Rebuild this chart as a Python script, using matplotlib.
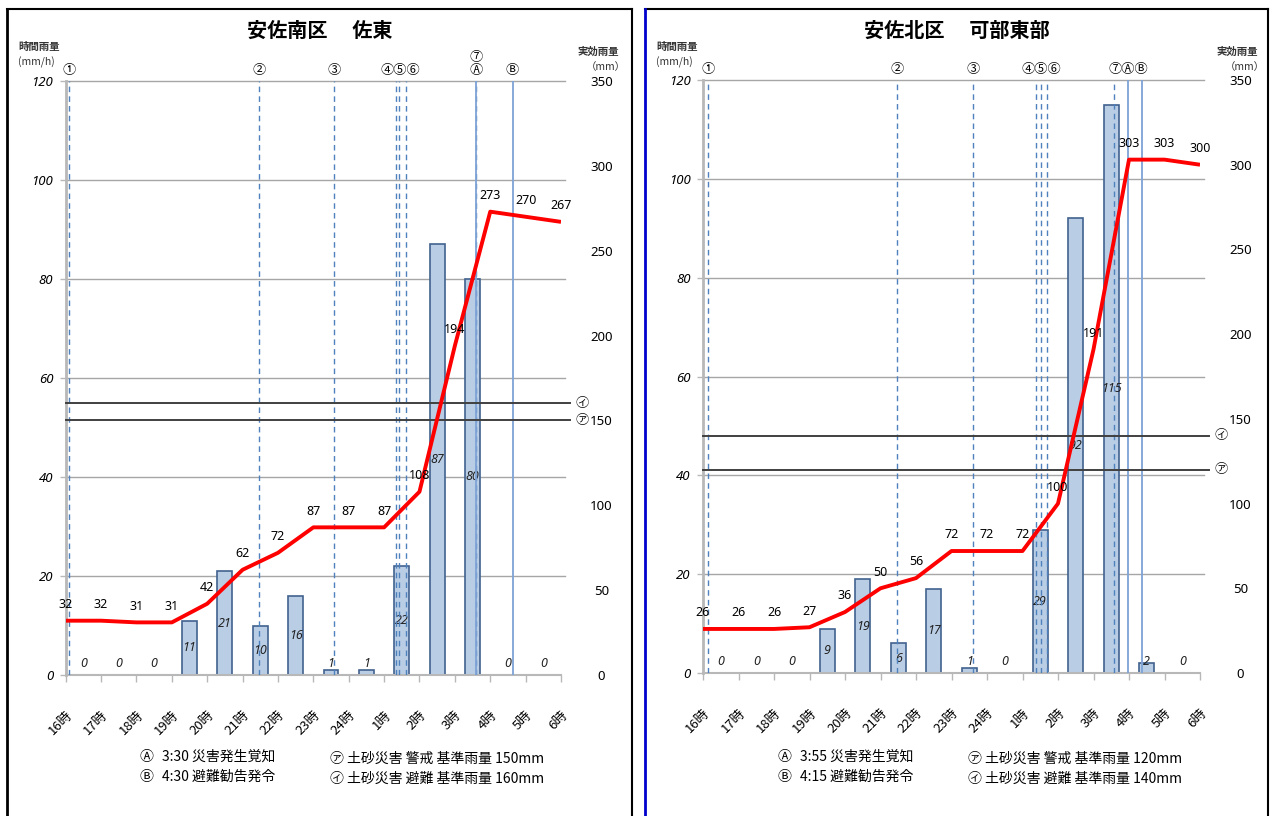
import matplotlib
matplotlib.use('Agg')
import matplotlib.pyplot as plt
from matplotlib.lines import Line2D

plt.rcParams['font.family'] = ['Noto Sans CJK JP', 'DejaVu Sans']
NUM_FONT = ['Noto Sans', 'DejaVu Sans']

W, H = 1271, 816

hours = ['16時', '17時', '18時', '19時', '20時', '21時', '22時', '23時', '24時',
         '1時', '2時', '3時', '4時', '5時', '6時']

# 安佐南区 佐東
sato_title = '安佐南区　 佐東'
sato_hourly = [0, 0, 0, 11, 21, 10, 16, 1, 1, 22, 87, 80, 0, 0]
sato_effective = [32, 32, 31, 31, 42, 62, 72, 87, 87, 87, 108, 194, 273, 270, 267]
sato_events = {'①': 0.10, '②': 5.46, '③': 7.58, '④': 9.33, '⑤': 9.41, '⑥': 9.61,
               '⑦': 11.6, 'Ⓐ': 11.6, 'Ⓑ': 12.63}
sato_groups = [['①'], ['②'], ['③'], ['④', '⑤', '⑥'], ['⑦', 'Ⓐ'], ['Ⓑ']]
sato_warn = 150   # ア
sato_evac = 160   # イ
sato_notes = ['3:30 災害発生覚知', '4:30 避難勧告発令']

# 安佐北区 可部東部
kabe_title = '安佐北区　 可部東部'
kabe_hourly = [0, 0, 0, 9, 19, 6, 17, 1, 0, 29, 92, 115, 2, 0]
kabe_effective = [26, 26, 26, 27, 36, 50, 56, 72, 72, 72, 100, 191, 303, 303, 300]
kabe_events = {'①': 0.14, '②': 5.46, '③': 7.6, '④': 9.39, '⑤': 9.53, '⑥': 9.70,
               '⑦': 11.57, 'Ⓐ': 11.98, 'Ⓑ': 12.38}
kabe_groups = [['①'], ['②'], ['③'], ['④', '⑤', '⑥'], ['⑦', 'Ⓐ', 'Ⓑ']]
kabe_warn = 120
kabe_evac = 140
kabe_notes = ['3:55 災害発生覚知', '4:15 避難勧告発令']

fig = plt.figure(figsize=(W / 100, H / 100), dpi=100)


def px_rect(x0, y0, x1, y1):
    return [x0 / W, 1 - y1 / H, (x1 - x0) / W, (y1 - y0) / H]


def fx(x):
    return x / W


def fy(y):
    return 1 - y / H


def draw_panel(box, ax_box, title, hourly, effective, events, groups, warn, evac, notes, edge_left):
    bx0, by0, bx1 = box
    # frame
    fig.add_artist(Line2D([fx(bx0), fx(bx1)], [fy(by0), fy(by0)], color='black', lw=1.5))
    fig.add_artist(Line2D([fx(bx1), fx(bx1)], [fy(by0), 0], color='black', lw=1.5))
    fig.add_artist(Line2D([fx(bx0), fx(bx0)], [fy(by0), 0], color=edge_left, lw=2))

    ax = fig.add_axes(px_rect(*ax_box))
    ax.set_xlim(0, 14)
    ax.set_ylim(0, 120)
    for s in ['top', 'right']:
        ax.spines[s].set_visible(False)
    ax.spines['left'].set_color('#b8b8b8')
    ax.spines['left'].set_linewidth(2)
    ax.spines['bottom'].set_color('#b8b8b8')
    ax.spines['bottom'].set_linewidth(1.5)
    ax.set_yticks(range(0, 121, 20))
    ax.set_yticklabels([str(v) for v in range(0, 121, 20)], fontstyle='italic',
                       fontsize=9.5, family=NUM_FONT)
    ax.set_xticks(range(15))
    ax.set_xticklabels(hours, rotation=45, ha='right', va='top', rotation_mode='anchor', fontsize=9.5)
    ax.tick_params(axis='y', colors='#b8b8b8', labelcolor='black', length=4, width=1, pad=5)
    ax.tick_params(axis='x', colors='#b8b8b8', labelcolor='black', length=5, width=1, pad=19)
    for v in range(20, 121, 20):
        ax.plot([0, 14.1], [v, v], color='#a6a6a6', lw=1, zorder=0, clip_on=False)

    xs = [i + 0.5 for i in range(len(hourly))]
    ax.bar(xs, hourly, width=0.42, color='#b9cde5', edgecolor='#41628f', lw=1.2, zorder=2)
    for x, v in zip(xs, hourly):
        ax.text(x, max(v / 2, 2.4), str(v), ha='center', va='center', fontsize=9,
                fontstyle='italic', family=NUM_FONT, color='#222222', zorder=6)

    ax2 = ax.twinx()
    ax2.set_ylim(0, 350)
    ax2.set_xlim(0, 14)
    for s in ax2.spines.values():
        s.set_visible(False)
    ax2.set_yticks(range(0, 351, 50))
    ax2.set_yticklabels([str(v) for v in range(0, 351, 50)], fontsize=9.5, ha='center',
                        family=NUM_FONT)
    ax2.tick_params(axis='y', length=0, pad=29)

    # event lines
    for mark, t in events.items():
        if mark in ('Ⓐ', 'Ⓑ'):
            ax2.plot([t, t], [0, 350], color='#7ea3d6', lw=1.3, zorder=3)
        else:
            ax2.plot([t, t], [0, 350], color='#4f81bd', lw=1, ls=(0, (4, 3)), zorder=3)
    for g in groups:
        ts = [events[m] for m in g]
        if max(ts) - min(ts) < 1e-6:
            txt = '\n'.join(g)
        else:
            txt = ''.join(g)
        ax2.annotate(txt, xy=(sum(ts) / len(ts), 1), xycoords=('data', 'axes fraction'),
                     xytext=(0, 3), textcoords='offset points', ha='center', va='bottom',
                     fontsize=9.5, linespacing=1.0)

    # threshold lines
    for v, mark in [(warn, '㋐'), (evac, '㋑')]:
        ax2.plot([0, 14.25], [v, v], color='#404040', lw=1.4, zorder=4, clip_on=False)
        ax2.annotate(mark, xy=(14.25, v), xytext=(9, 0), textcoords='offset points',
                     ha='center', va='center', fontsize=9.5, annotation_clip=False)

    # effective rainfall line
    ax2.plot(range(15), effective, color='red', lw=2.8, zorder=5, solid_capstyle='butt')
    for i, v in enumerate(effective):
        ax2.annotate(str(v), xy=(i, v), xytext=(0, 7), textcoords='offset points',
                     ha='center', va='bottom', fontsize=9, family=NUM_FONT, zorder=6)

    # titles and axis captions
    ax0, ay0, ax1, ay1 = ax_box
    fig.text(fx((bx0 + bx1) / 2), fy(30), title, ha='center', va='center',
             fontsize=14.5, fontweight='bold')
    fig.text(fx(bx0 + 11), fy(47), '時間雨量', ha='left', va='center', fontsize=7.5,
             fontstyle='italic', fontweight='bold', color='#333333')
    fig.text(fx(bx0 + 11), fy(62), '(mm/h)', ha='left', va='center', fontsize=7.5,
             fontstyle='italic', color='#333333')
    fig.text(fx(ax1 + 37), fy(52), '実効雨量', ha='center', va='center', fontsize=7.5,
             fontweight='bold', color='#333333')
    fig.text(fx(ax1 + 45), fy(67), '（mm）', ha='center', va='center', fontsize=7.5,
             color='#333333')

    # notes
    nx0 = bx0 + 133
    fig.text(fx(nx0), fy(757), 'Ⓐ', ha='left', va='center', fontsize=10)
    fig.text(fx(nx0 + 22), fy(757), notes[0], ha='left', va='center', fontsize=10)
    fig.text(fx(nx0), fy(777), 'Ⓑ', ha='left', va='center', fontsize=10)
    fig.text(fx(nx0 + 22), fy(777), notes[1], ha='left', va='center', fontsize=10)
    fig.text(fx(nx0 + 190), fy(759), '㋐ 土砂災害 警戒 基準雨量 %dmm' % warn,
             ha='left', va='center', fontsize=10)
    fig.text(fx(nx0 + 190), fy(779), '㋑ 土砂災害 避難 基準雨量 %dmm' % evac,
             ha='left', va='center', fontsize=10)


draw_panel((7, 9, 632), (65.7, 81, 561, 675), sato_title, sato_hourly, sato_effective,
           sato_events, sato_groups, sato_warn, sato_evac, sato_notes, 'black')
draw_panel((645, 9, 1268), (703, 80, 1200, 673), kabe_title, kabe_hourly, kabe_effective,
           kabe_events, kabe_groups, kabe_warn, kabe_evac, kabe_notes, '#0000cc')

fig.savefig('out.png', dpi=100)
